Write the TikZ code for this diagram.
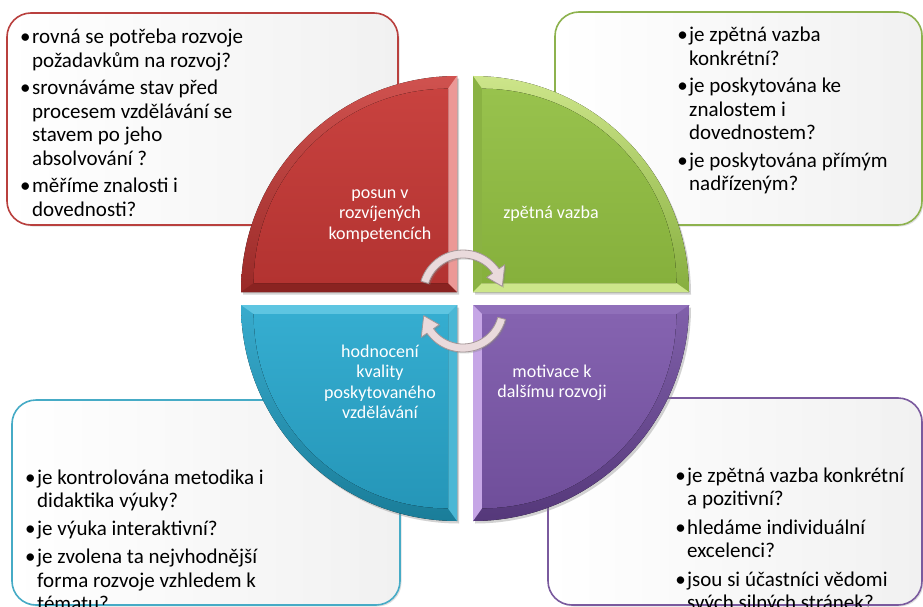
\documentclass[tikz,border=0pt]{standalone}
\usepackage{fontspec}
\setmainfont{Carlito}
\usetikzlibrary{calc,shadows}

% outline colours of the four info boxes
\definecolor{redline}{HTML}{B9403E}
\definecolor{greenline}{HTML}{8DB24E}
\definecolor{blueline}{HTML}{46ABC6}
\definecolor{purpleline}{HTML}{7A5A9E}
\definecolor{boxshade}{HTML}{F1F1F1}
% quarter disc facets
\definecolor{rArcTop}{HTML}{D0524F}\definecolor{rArcBot}{HTML}{9A2A28}
\definecolor{rEdgeA}{HTML}{8A2321}\definecolor{rEdgeB}{HTML}{EC9896}
\definecolor{rFaceTop}{HTML}{C8423F}\definecolor{rFaceBot}{HTML}{B33331}
\definecolor{gArcTop}{HTML}{CDE58A}\definecolor{gArcBot}{HTML}{86AE3E}
\definecolor{gEdgeA}{HTML}{8AB243}\definecolor{gEdgeB}{HTML}{CDE68A}
\definecolor{gFaceTop}{HTML}{98C24D}\definecolor{gFaceBot}{HTML}{86B03C}
\definecolor{bArcTop}{HTML}{38ABCD}\definecolor{bArcBot}{HTML}{1A7D99}
\definecolor{bEdgeA}{HTML}{4AB7D5}\definecolor{bEdgeB}{HTML}{5EC5E1}
\definecolor{bFaceTop}{HTML}{35ADD0}\definecolor{bFaceBot}{HTML}{2596B8}
\definecolor{pArcTop}{HTML}{8060AA}\definecolor{pArcBot}{HTML}{55387A}
\definecolor{pEdgeA}{HTML}{9070BA}\definecolor{pEdgeB}{HTML}{C6A6E6}
\definecolor{pFaceTop}{HTML}{8563B0}\definecolor{pFaceBot}{HTML}{6F4E9A}
% cycle arrows
\definecolor{arrowfill}{HTML}{EADADC}
\definecolor{arrowline}{HTML}{A59798}

\newcommand\bul{\llap{•\hspace{1.5pt}}}

% bevelled quarter disc: #1,#2 corner, #3 start angle, #4 colour prefix, #5 name prefix
\newcommand\quarterdisc[5]{%
  \coordinate (#5K) at (#1,#2);
  \coordinate (#5I) at ($(#5K)+({#3+45}:12.728)$);
  \fill[top color=#4ArcTop, bottom color=#4ArcBot,
        drop shadow={opacity=.35,shadow xshift=2pt,shadow yshift=-2.5pt}]
    (#5K) -- ++(#3:216) arc[start angle=#3, delta angle=90, radius=216] -- cycle;
  \fill[#4EdgeA] (#5K) -- ($(#5K)+(#3:216)$) -- ($(#5I)+(#3:194.3)$) -- (#5I) -- cycle;
  \fill[#4EdgeB] (#5K) -- ($(#5K)+({#3+90}:216)$) -- ($(#5I)+({#3+90}:194.3)$) -- (#5I) -- cycle;
  \fill[top color=#4FaceTop, bottom color=#4FaceBot]
    (#5I) -- ++(#3:194.3) arc[start angle=#3, delta angle=90, radius=194.3] -- cycle;
}

\tikzset{
  infobox/.style={rounded corners=24pt, line width=1.6pt, left color=white, right color=boxshade,
    drop shadow={opacity=.25,shadow xshift=1.5pt,shadow yshift=-1.5pt}},
  boxtext/.style={anchor=base west, inner sep=0pt, text=black,
    font=\fontsize{21}{23.5}\selectfont},
  qlabel/.style={align=center, inner sep=0pt, text=white, font=\fontsize{18}{20.5}\selectfont},
  cyclearrow/.style={fill=arrowfill, draw=arrowline, line width=0.8pt, line join=round,
    drop shadow={opacity=.3,shadow xshift=1.5pt,shadow yshift=-1.5pt}},
}

\begin{document}
\begin{tikzpicture}[x=1pt,y=-1pt]
\useasboundingbox (0,0) rectangle (923,607);
\clip (0,0) rectangle (923,607);
\fill[white] (0,0) rectangle (923,607);

% info boxes
\draw[infobox, draw=redline]    (7,13)   rectangle (398,225);
\draw[infobox, draw=greenline]  (555,12) rectangle (922,225);
\draw[infobox, draw=blueline]   (12,400) rectangle (400,605);
\draw[infobox, draw=purpleline] (548,398) rectangle (922,605);

\node[boxtext] (tl) at (32,44) {\begin{tabular}[t]{@{}l@{}}
\bul rovná se potřeba rozvoje\\požadavkům na rozvoj?\\[4pt]
\bul srovnáváme stav před\\procesem vzdělávání se\\stavem po jeho\\absolvování ?\\[4pt]
\bul měříme znalosti i\\dovednosti?\end{tabular}};
\node[boxtext] (tr) at (689,42) {\begin{tabular}[t]{@{}l@{}}
\bul je zpětná vazba\\konkrétní?\\[4pt]
\bul je poskytována ke\\znalostem i\\dovednostem?\\[4pt]
\bul je poskytována přímým\\nadřízeným?\end{tabular}};
\node[boxtext] (bl) at (37,484) {\begin{tabular}[t]{@{}l@{}}
\bul je kontrolována metodika i\\didaktika výuky?\\[4.5pt]
\bul je výuka interaktivní?\\[4.5pt]
\bul je zvolena ta nejvhodnější\\forma rozvoje vzhledem k\\tématu?\end{tabular}};
\node[boxtext] (br) at (687,482) {\begin{tabular}[t]{@{}l@{}}
\bul je zpětná vazba konkrétní\\a pozitivní?\\[5pt]
\bul hledáme individuální\\excelenci?\\[5pt]
\bul jsou si účastníci vědomi\\svých silných stránek?\end{tabular}};

% central quarter discs
\quarterdisc{457}{292}{180}{r}{qr}
\quarterdisc{473}{292}{270}{g}{qg}
\quarterdisc{457}{305}{90}{b}{qb}
\quarterdisc{473}{305}{0}{p}{qp}

\node[qlabel] (lr) at (380,216) {posun v\\rozvíjených\\kompetencích};
\node[qlabel] (lg) at (551,214) {zpětná vazba};
\node[qlabel] (lb) at (380,382) {hodnocení\\kvality\\poskytovaného\\vzdělávání};
\node[qlabel] (lp) at (552,383) {motivace k\\dalšímu rozvoji};

% cycle arrows
\coordinate (cu) at (463,294);
\coordinate (cl) at (463,308);
\draw[cyclearrow] ($(cu)+(197:44)$) arc[start angle=197, end angle=325, radius=44]
  -- ($(cu)+(325:51)$) -- ($(cu)+(349:40)$) -- ($(cu)+(325:29)$) -- ($(cu)+(325:36)$)
  arc[start angle=325, end angle=197, radius=36] -- cycle;
\draw[cyclearrow] ($(cl)+(15:44)$) arc[start angle=15, end angle=145, radius=44]
  -- ($(cl)+(145:51)$) -- ($(cl)+(169:40)$) -- ($(cl)+(145:29)$) -- ($(cl)+(145:36)$)
  arc[start angle=145, end angle=15, radius=36] -- cycle;
\end{tikzpicture}
\end{document}
